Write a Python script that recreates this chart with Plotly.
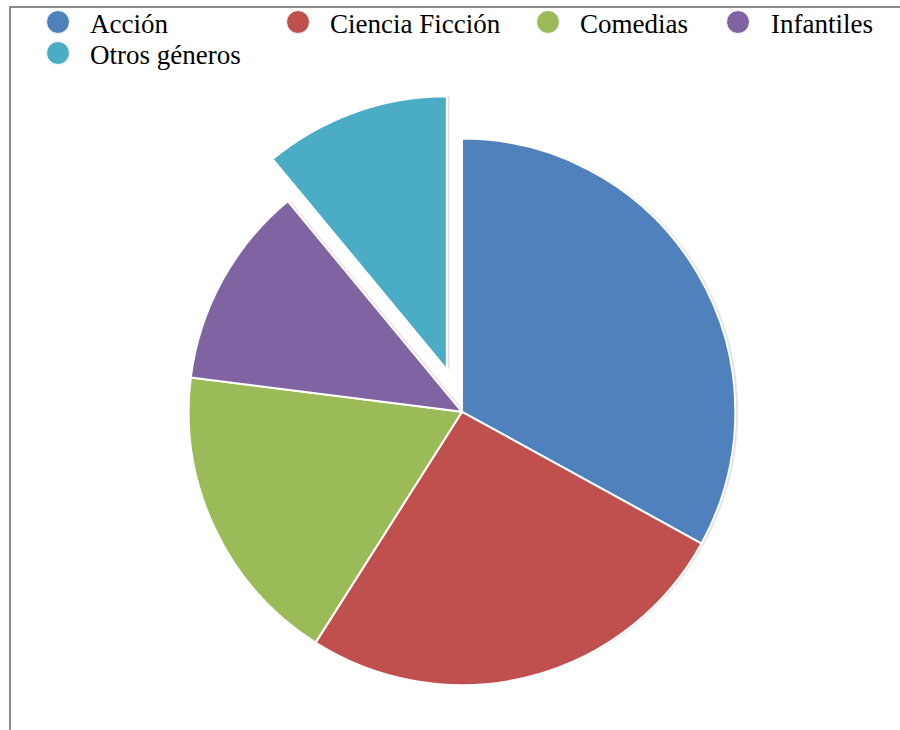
import plotly.graph_objects as go

W, H = 900, 730

generos = ["Acción", "Ciencia Ficción", "Comedias", "Infantiles", "Otros géneros"]
porcentajes = [33, 26, 18, 12, 11]
colores = ["#4F81BD", "#C0504D", "#9BBB59", "#8064A2", "#4BACC6"]
separacion = [0, 0, 0, 0, 0.164]

# legend layout (pixels): circle centre x, row y, text start x
leg_cx = [58, 298, 548, 738, 58]
leg_cy = [22, 22, 22, 22, 53]
leg_tx = [88, 328, 578, 769, 88]


def dom(px0, px1, total, flip=False):
    if flip:
        return [max(0, 1 - px1 / total), min(1, 1 - px0 / total)]
    return [max(0, px0 / total), min(1, px1 / total)]


cx, cy = 462, 412  # pie centre in pixels (from top)
r = 273.5
half = r * (1 + max(separacion))

fig = go.Figure()

# soft shadow behind the pie
for dx, a in [(3, 0.09), (1.5, 0.08)]:
    fig.add_trace(
        go.Pie(
            labels=generos,
            values=porcentajes,
            pull=separacion,
            sort=False,
            direction="clockwise",
            marker=dict(colors=["rgba(0,0,0,%s)" % a] * len(generos), line=dict(width=0)),
            textinfo="none",
            hoverinfo="skip",
            showlegend=False,
            domain=dict(
                x=dom(cx + dx - half, cx + dx + half, W),
                y=dom(cy - half, cy + half, H, flip=True),
            ),
        )
    )

fig.add_trace(
    go.Pie(
        labels=generos,
        values=porcentajes,
        pull=separacion,
        sort=False,
        direction="clockwise",
        marker=dict(colors=colores, line=dict(color="white", width=2)),
        textinfo="none",
        showlegend=False,
        domain=dict(
            x=dom(cx - half, cx + half, W),
            y=dom(cy - half, cy + half, H, flip=True),
        ),
    )
)

shapes = [
    dict(
        type="path",
        xref="paper",
        yref="paper",
        path="M %f,%f L %f,%f L %f,%f" % (10 / W, 0, 10 / W, 1 - 7 / H, 1, 1 - 7 / H),
        line=dict(color="#8A8A8A", width=2),
    )
]
annotations = []
rad = 11.5
for g, c, x0, y0, tx in zip(generos, colores, leg_cx, leg_cy, leg_tx):
    shapes.append(
        dict(
            type="circle",
            xref="paper",
            yref="paper",
            x0=(x0 - rad) / W,
            x1=(x0 + rad) / W,
            y0=1 - (y0 + rad) / H,
            y1=1 - (y0 - rad) / H,
            fillcolor=c,
            line=dict(color="white", width=1),
        )
    )
    annotations.append(
        dict(
            text=g,
            xref="paper",
            yref="paper",
            x=tx / W,
            y=1 - (y0 + 2) / H,
            xanchor="left",
            yanchor="middle",
            showarrow=False,
            font=dict(family="Liberation Serif", size=27, color="black"),
        )
    )

fig.update_layout(
    width=W,
    height=H,
    margin=dict(l=0, r=0, t=0, b=0),
    paper_bgcolor="white",
    plot_bgcolor="white",
    shapes=shapes,
    annotations=annotations,
)

fig.write_html(
    "out.html",
    config={"displayModeBar": False},
    post_script="document.body.style.margin='0';",
)
